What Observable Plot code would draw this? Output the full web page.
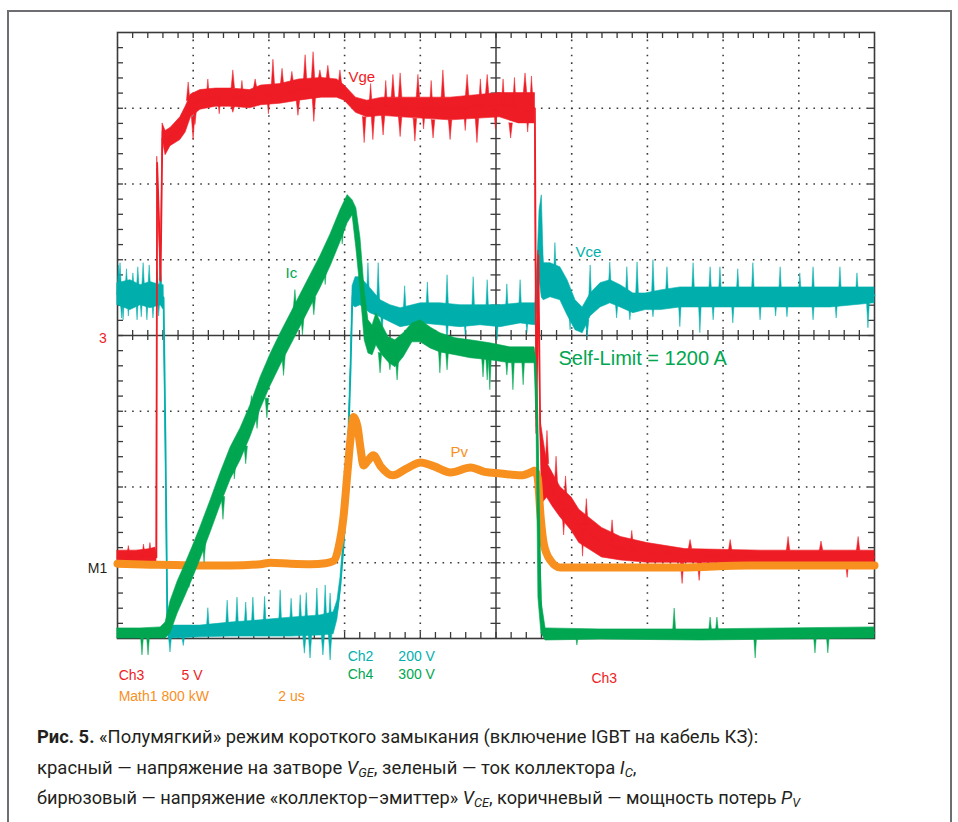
<!DOCTYPE html>
<html><head><meta charset="utf-8">
<script src="https://cdn.jsdelivr.net/npm/d3@7"></script>
<script src="https://cdn.jsdelivr.net/npm/@observablehq/plot@0.6"></script>
<style>
body{margin:0;background:#fff;}
#page{position:relative;width:958px;height:822px;overflow:hidden;background:#fff;}
#frame{position:absolute;left:7px;top:10px;width:941px;height:840px;border:2px solid #6d6e71;}
#chart{position:absolute;left:0;top:0;}
.cap{position:absolute;left:37px;font-family:Roboto,"Noto Sans",sans-serif;font-size:18px;line-height:20px;color:#231f20;white-space:nowrap;transform-origin:0 50%;}
.cap sub{font-size:70%;vertical-align:-0.25em;}
.cap b{font-weight:700;}
</style></head>
<body><div id="page"><div id="frame"></div><div id="chart"></div>
<div class="cap" id="c1" data-w="721" style="top:727px"><b>Рис. 5.</b> «Полумягкий» режим короткого замыкания (включение IGBT на кабель КЗ):</div>
<div class="cap" id="c2" data-w="599" style="top:758px">красный — напряжение на затворе <i>V</i><sub><i>GE</i></sub>, зеленый — ток коллектора <i>I</i><sub><i>C</i></sub>,</div>
<div class="cap" id="c3" data-w="763" style="top:788px">бирюзовый — напряжение «коллектор–эмиттер» <i>V</i><sub><i>CE</i></sub>, коричневый — мощность потерь <i>P</i><sub><i>V</i></sub></div>
</div>
<script>
// ---- oscilloscope channel settings (value per division, ground-marker offset in divisions)
const chVge = {perDiv: 5, offset: 4};      // Ch3 5 V/div, marker "3"
const chVce = {perDiv: 200, offset: 0};    // Ch2 200 V/div
const chIc  = {perDiv: 300, offset: 0};    // Ch4 300 A/div
const chPv  = {perDiv: 800, offset: 0.95}; // Math1 800 kW/div, marker "M1"

// ---- traces: [time µs, lower envelope, upper envelope]
const vgeBand = [[0,-15.0,-14.2],[0.5,-15.0,-14.2],[0.87,-15.0,-14.1],[1.0,-15.0,-14.0],[1.03,-15.0,-14.3],[1.05,11.0,11.8],[1.10,7.0,8.0],[1.14,3.6,3.6],[1.19,13.0,14.0],[1.27,11.9,13.5],[1.40,12.5,13.7],[1.66,12.9,14.4],[1.80,13.4,15.1],[1.94,14.4,15.9],[2.19,14.9,16.2],[2.6,15.1,16.3],[3.0,15.1,16.3],[3.5,15.0,16.2],[3.8,15.2,16.5],[4.3,15.3,16.6],[4.8,15.5,16.9],[5.4,15.7,17.0],[5.8,15.7,16.9],[6.0,15.5,16.5],[6.3,14.7,15.7],[6.6,14.4,15.5],[7.0,14.5,15.7],[7.5,14.4,15.7],[8.8,14.2,15.7],[10.1,14.4,16.0],[10.6,14.0,16.0],[11.03,14.0,16.0],[11.07,-6.5,-5.5],[11.12,5.0,5.6],[11.17,-6.5,-5.5],[11.22,-11.1,-6.3],[11.35,-10.7,-8.4],[11.5,-11.3,-9.1],[11.7,-12.0,-10.0],[12.0,-12.9,-10.7],[12.2,-13.7,-11.5],[12.8,-14.65,-12.7],[13.3,-14.85,-13.3],[14.0,-15.0,-13.7],[15.0,-15.0,-14.1],[17.0,-15.05,-14.2],[20.0,-15.05,-14.2]];
// spikes: [time µs, base, peak]
const vgeSpikes = [[0.30,-14.6,-13.9],[0.70,-14.6,-13.8],[0.87,-14.6,-13.7],[1.88,15.5,16.7],[2.40,15.6,16.9],[3.06,16.3,17.5],[3.30,15.7,16.8],[3.65,16.3,16.9],[4.12,16.4,18.2],[4.36,16.5,17.6],[4.62,16.6,17.4],[4.97,16.8,18.5],[5.18,16.9,18.7],[5.36,16.9,17.5],[5.57,16.9,17.8],[5.89,16.6,17.5],[6.70,15.0,16.6],[7.10,15.1,16.8],[7.29,15.7,17.2],[7.48,15.7,17.3],[7.95,15.7,17.2],[8.30,15.0,16.8],[8.61,15.7,17.5],[9.25,15.8,17.2],[9.60,15.2,16.9],[9.78,15.9,17.2],[10.20,15.2,16.9],[10.50,15.2,17.0],[10.78,16.0,17.3],[10.95,15.2,17.1],[2.01,14.4,12.9],[2.06,15.0,13.9],[2.70,15.7,14.6],[3.06,15.1,14.7],[4.00,15.8,14.6],[4.78,15.5,14.5],[5.20,15.7,14.1],[6.53,14.4,12.7],[6.76,14.5,12.9],[7.03,14.5,13.2],[7.48,14.4,13.1],[7.87,14.3,12.8],[8.10,14.9,13.6],[8.35,14.2,13.0],[8.80,14.2,12.9],[9.20,14.9,13.5],[9.51,14.3,12.7],[10.0,14.9,13.6],[10.4,14.0,13.0],[10.85,14.8,13.4],[11.36,-8.5,-6.3],[11.60,-10.0,-8.0],[11.85,-11.0,-9.3],[12.40,-12.5,-10.8],[13.08,-13.5,-12.2],[13.60,-14.0,-12.9],[15.14,-14.1,-13.5],[16.20,-14.2,-13.5],[17.73,-14.2,-13.3],[18.60,-14.2,-13.6],[19.58,-14.2,-13.3],[11.80,-11.5,-13.2],[12.30,-12.5,-14.6],[14.93,-15.0,-16.4],[15.38,-15.0,-16.2],[19.29,-15.0,-16.0]];

const vceBand = [[0,880,938],[0.34,867,946],[0.61,880,933],[0.87,872,941],[1.14,880,933],[1.22,867,933],[1.27,500,540],[1.32,40,60],[1.35,0,20],[1.40,0,34],[2.19,3,34],[2.99,5,42],[3.78,5,48],[4.57,5,55],[5.36,8,61],[5.71,11,69],[5.81,50,100],[5.89,120,160],[5.97,220,260],[6.05,340,380],[6.10,500,540],[6.16,690,730],[6.21,880,930],[6.29,874,954],[6.42,880,954],[6.68,859,925],[6.95,848,893],[7.21,835,880],[7.48,822,872],[8.01,832,885],[8.53,827,885],[9.06,822,880],[9.59,827,880],[10.12,822,880],[10.65,832,885],[11.04,827,885],[11.10,880,1000],[11.15,950,1130],[11.21,900,1170],[11.26,893,991],[11.44,901,991],[11.70,893,980],[11.89,853,946],[12.10,814,893],[12.29,806,874],[12.50,851,911],[12.76,874,938],[13.02,885,946],[13.29,874,933],[13.63,859,911],[13.95,867,911],[14.35,867,919],[14.87,874,927],[15.93,874,927],[17.52,874,927],[18.84,874,927],[20,885,927]];
const vceSpikes = [[0.04,909,985],[0.08,909,991],[0.25,909,975],[0.42,909,964],[0.55,909,980],[0.69,909,991],[0.85,909,985],[1.06,909,972],[1.15,909,990],[0.12,909,845],[0.16,909,840],[0.30,909,850],[0.53,909,840],[0.64,909,848],[0.79,909,840],[0.95,909,845],[1.10,909,850],[2.40,18,80],[2.91,20,100],[3.17,20,108],[3.40,22,95],[3.59,25,108],[3.90,25,110],[4.31,25,127],[4.60,30,105],[4.84,30,114],[5.00,30,120],[5.28,30,132],[5.50,35,140],[5.63,35,119],[1.40,10,-37],[1.75,10,-20],[4.95,10,-40],[5.10,10,-53],[5.44,10,-45],[5.63,10,-58],[6.63,890,991],[6.90,870,991],[7.60,850,930],[8.20,855,940],[8.72,855,959],[9.41,850,954],[9.78,850,946],[10.30,850,935],[10.65,855,946],[7.00,870,800],[7.80,855,800],[8.72,855,779],[9.20,850,800],[10.04,850,787],[10.83,855,806],[11.57,940,1044],[12.50,880,985],[13.02,915,993],[13.47,890,980],[13.74,890,993],[14.16,890,999],[14.53,895,980],[15.22,900,991],[15.67,900,980],[15.93,900,980],[16.40,900,975],[16.80,900,991],[17.52,900,980],[18.04,900,964],[18.39,900,980],[19.10,900,980],[19.55,900,964],[11.97,880,814],[12.42,840,795],[13.20,900,845],[13.55,885,840],[14.16,890,848],[14.87,900,822],[15.40,900,806],[15.75,900,840],[16.27,900,832],[16.99,900,840],[17.40,900,850],[17.70,900,848],[18.39,900,840],[19.00,900,845],[19.84,900,819]];

const icBand = [[0,0,40],[0.61,0,40],[1.14,0,44],[1.27,0,63],[1.40,20,147],[1.59,99,226],[1.80,170,297],[1.98,234,361],[2.19,313,440],[2.46,420,547],[2.72,527,654],[2.99,630,757],[3.25,705,832],[3.51,797,923],[3.78,908,1034],[4.04,999,1125],[4.31,1082,1209],[4.57,1157,1284],[4.84,1236,1363],[5.10,1312,1439],[5.36,1387,1514],[5.63,1474,1601],[5.89,1569,1696],[6.08,1645,1756],[6.21,1676,1736],[6.31,1546,1704],[6.42,1379,1585],[6.53,1181,1379],[6.63,1129,1260],[6.74,1122,1240],[6.84,1161,1288],[7.00,1122,1240],[7.16,1094,1193],[7.34,1074,1181],[7.56,1114,1209],[7.79,1173,1248],[8.01,1173,1260],[8.27,1149,1232],[8.53,1133,1209],[8.93,1122,1189],[9.33,1110,1181],[9.85,1102,1169],[10.38,1090,1153],[11.02,1090,1153],[11.07,864,1102],[11.12,162,876],[11.20,20,151],[11.31,-8,40],[12.76,-4,36],[15.40,-8,36],[20,0,44]];
const icSpikes = [[0.66,20,-67],[0.82,20,-67],[1.90,280,200],[2.30,380,300],[2.80,560,470],[3.10,700,630],[3.40,760,690],[3.70,900,830],[3.96,950,872],[4.40,1120,1040],[4.90,1280,1200],[5.20,1350,1280],[5.50,1480,1400],[5.95,1640,1560],[3.55,880,960],[4.70,1300,1380],[6.95,1130,1050],[7.21,1110,1062],[7.40,1110,1022],[8.53,1160,1050],[8.72,1150,1062],[9.67,1130,1034],[9.78,1130,1022],[9.85,1130,983],[10.30,1120,1042],[10.46,1120,983],[10.73,1120,1003],[12.15,20,-28],[14.72,20,119],[15.67,20,83],[15.85,20,83],[16.86,20,-79],[18.44,20,-59],[18.78,20,-59]];

// Pv: [time µs, kW]
const pvTrace = [[0,30],[0.87,20],[1.51,15],[2.19,10],[2.99,10],[3.78,25],[4.04,40],[4.57,30],[5.10,25],[5.50,35],[5.71,60],[5.84,200],[5.97,520],[6.08,1015],[6.16,1364],[6.24,1580],[6.34,1480],[6.42,1250],[6.50,1068],[6.60,1110],[6.76,1174],[6.95,1060],[7.27,963],[7.66,1040],[8.01,1100],[8.35,1060],[8.80,994],[9.33,1047],[9.70,1000],[10.12,983],[10.65,963],[10.95,1000],[11.02,1015],[11.10,941],[11.18,519],[11.26,244],[11.44,64],[11.70,-10],[12.23,-10],[14.87,-10],[16.64,11],[20,11]];

// ---- colours
const RED = "#ee1c25", TEAL = "#00afac", GREEN = "#00a650", ORANGE = "#f7901e", INK = "#231f20", GRID = "#3a3a3a";

const toDiv = (v, ch) => v / ch.perDiv + ch.offset;
function bandMarks(rows, ch, color) {
  const d = rows.map(([t, lo, hi]) => ({t, lo: toDiv(lo, ch), hi: toDiv(hi, ch)}));
  return [
    Plot.areaY(d, {x: "t", y1: "lo", y2: "hi", fill: color, stroke: color, strokeWidth: 0.6}),
    Plot.line(d, {x: "t", y: r => (r.lo + r.hi) / 2, stroke: color, strokeWidth: 1.6})
  ];
}
// each spike drawn as a narrow tapered sliver (half-width in µs)
function spikeMarks(rows, ch, color, hw = 0.045) {
  const d = rows.flatMap(([t, b, p], i) => [
    {i, t: t - hw, b: toDiv(b, ch), p: toDiv(b, ch)},
    {i, t, b: toDiv(b, ch), p: toDiv(p, ch)},
    {i, t: t + hw, b: toDiv(b, ch), p: toDiv(b, ch)}
  ]);
  return Plot.areaY(d, {x: "t", y1: "b", y2: "p", z: "i", fill: color, stroke: color, strokeWidth: 0.5});
}

// graticule: 10 x 8 divisions, 5 minor ticks per division
const xMajor = d3.range(2, 20, 2).filter(v => v !== 10);
const yMajor = [1, 2, 3, 5, 6, 7];
const xMinor = d3.range(1, 50).map(i => i * 0.4);
const yMinor = d3.range(1, 40).map(i => i * 0.2);
const pxX = 20 / 757, pxY = 8 / 606;

function label(text, x, y, fill, size, anchor = "start") {
  return Plot.text([text], {x: () => x, y: () => y, text: d => d, fill, fontSize: size, textAnchor: anchor, lineAnchor: "bottom"});
}

const chart = Plot.plot({
  width: 958, height: 712,
  marginLeft: 117, marginRight: 84, marginTop: 32, marginBottom: 74,
  x: {domain: [0, 20], axis: null},
  y: {domain: [0, 8], axis: null},
  style: {fontFamily: "'Liberation Sans', Arial, sans-serif", background: "transparent", overflow: "visible"},
  marks: [
    Plot.ruleX(xMajor, {stroke: GRID, strokeWidth: 1.6, strokeDasharray: "1.6,5.97"}),
    Plot.ruleY(yMajor, {stroke: GRID, strokeWidth: 1.6, strokeDasharray: "1.6,5.97"}),
    Plot.ruleX([10], {stroke: GRID, strokeWidth: 1.5}),
    Plot.ruleY([4], {stroke: GRID, strokeWidth: 1.5}),
    Plot.ruleX(xMinor, {y1: 8, y2: 8 - 6 * pxY, stroke: GRID, strokeWidth: 1.3}),
    Plot.ruleX(xMinor, {y1: 0, y2: 6 * pxY, stroke: GRID, strokeWidth: 1.3}),
    Plot.ruleY(yMinor, {x1: 0, x2: 6 * pxX, stroke: GRID, strokeWidth: 1.3}),
    Plot.ruleY(yMinor, {x1: 20, x2: 20 - 6 * pxX, stroke: GRID, strokeWidth: 1.3}),
    Plot.ruleX(xMinor, {y1: 4 - 5 * pxY, y2: 4 + 5 * pxY, stroke: GRID, strokeWidth: 1.3}),
    Plot.ruleY(yMinor, {x1: 10 - 5 * pxX, x2: 10 + 5 * pxX, stroke: GRID, strokeWidth: 1.3}),
    Plot.frame({stroke: GRID, strokeWidth: 1.6}),
    ...bandMarks(vceBand, chVce, TEAL),
    spikeMarks(vceSpikes, chVce, TEAL),
    ...bandMarks(vgeBand, chVge, RED),
    spikeMarks(vgeSpikes, chVge, RED),
    Plot.line(pvTrace, {x: d => d[0], y: d => toDiv(d[1], chPv), stroke: ORANGE, strokeWidth: 8, curve: "monotone-x", strokeLinejoin: "round"}),
    ...bandMarks(icBand, chIc, GREEN),
    spikeMarks(icSpikes, chIc, GREEN),
    label("Vge", 6.10, 7.35, RED, 15),
    label("Ic", 4.44, 4.76, GREEN, 15),
    label("Vce", 12.10, 5.03, TEAL, 15),
    label("Pv", 8.80, 2.39, ORANGE, 15),
    label("Self-Limit = 1200 A", 11.65, 3.61, GREEN, 20),
    label("3", -0.28, 3.90, RED, 14, "end"),
    label("M1", -0.27, 0.87, INK, 14, "end"),
    label("Ch3", 0.03, -0.55, RED, 14),
    label("5 V", 1.69, -0.55, RED, 14),
    label("Math1 800 kW", 0.03, -0.83, ORANGE, 14),
    label("2 us", 4.25, -0.83, ORANGE, 14),
    label("Ch2", 6.08, -0.30, TEAL, 14),
    label("200 V", 7.42, -0.30, TEAL, 14),
    label("Ch4", 6.08, -0.53, GREEN, 14),
    label("300 V", 7.42, -0.53, GREEN, 14),
    label("Ch3", 12.52, -0.59, RED, 14)
  ]
});
document.getElementById("chart").appendChild(chart);

// fit each caption line to its measured width in the reference (condensed typeface)
for (const el of document.querySelectorAll(".cap")) {
  const target = +el.dataset.w;
  const w = el.offsetWidth;
  el.style.transform = `scaleX(${target / w})`;
}
</script>
</body></html>
